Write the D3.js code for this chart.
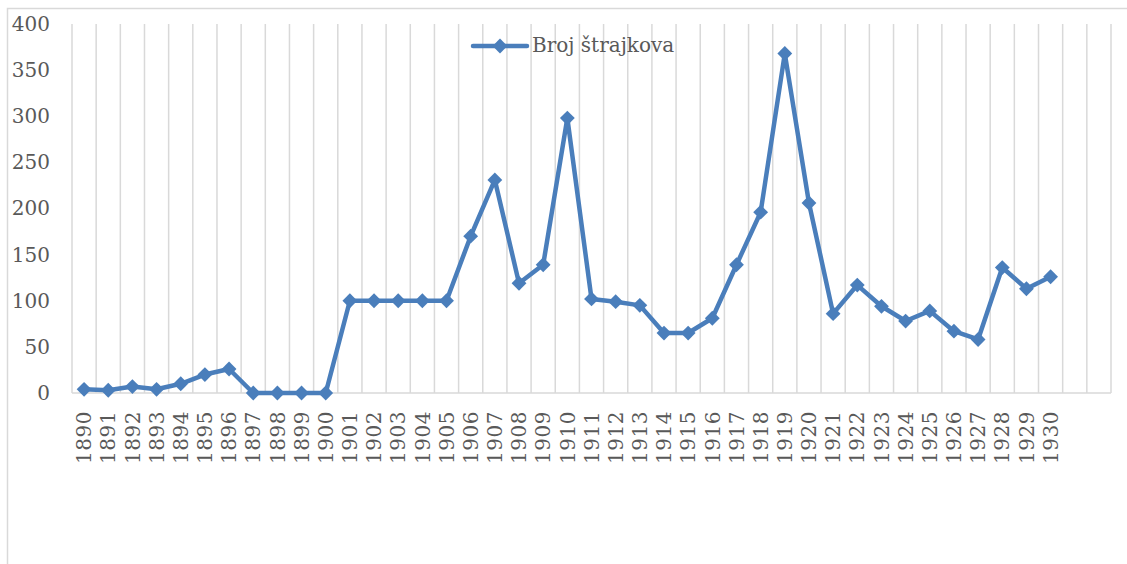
<!DOCTYPE html>
<html>
<head>
<meta charset="utf-8">
<script src="https://cdn.jsdelivr.net/npm/d3@7"></script>
<style>
  html, body { margin: 0; padding: 0; background: #fff; }
  text { font-family: "DejaVu Serif", serif; fill: #595959; }
</style>
</head>
<body>
<div id="chart"></div>
<script>
// Broj štrajkova 1890-1930
const years = [
    '1890', '1891', '1892', '1893', '1894', '1895', '1896', '1897', '1898', '1899',
    '1900', '1901', '1902', '1903', '1904', '1905', '1906', '1907', '1908', '1909',
    '1910', '1911', '1912', '1913', '1914', '1915', '1916', '1917', '1918', '1919',
    '1920', '1921', '1922', '1923', '1924', '1925', '1926', '1927', '1928', '1929',
    '1930'
];
const strikes = [
    4, 3, 7, 4, 10, 20, 26, 0, 0, 0,
    0, 100, 100, 100, 100, 100, 170, 231, 119, 139,
    298, 102, 99, 95, 65, 65, 81, 139, 196, 368,
    206, 86, 117, 94, 78, 89, 67, 58, 136, 113,
    126
];
const emptySlots = 2;   // the category axis runs on two empty slots past 1930
const yTicks = [0, 50, 100, 150, 200, 250, 300, 350, 400];
const seriesName = 'Broj štrajkova';

const width = 1127;
const height = 564;
const blue = '#4a7ebb';
const grid = '#d9d9d9';

const svg = d3.select('#chart')
    .append('svg')
    .attr('width', width)
    .attr('height', height);

// chart area border (cut off on the right and bottom like the original)
svg.append('path')
    .attr('d', `M7.5,${height} V8.5 H${width}`)
    .style('fill', 'none')
    .style('stroke', grid)
    .style('stroke-width', 1.5);

const slots = d3.range(years.length + emptySlots);
const x = d3.scaleBand()
    .domain(slots)
    .range([72, 1111])
    .padding(0);

const y = d3.scaleLinear()
    .domain([0, 400])
    .range([393, 24]);

// vertical gridlines on the slot boundaries
const bounds = slots.map(i => x(i)).concat([x.range()[1]]);
svg.selectAll('.vgrid')
    .data(bounds)
    .enter()
    .append('line')
    .attr('class', 'vgrid')
    .attr('x1', d => d)
    .attr('x2', d => d)
    .attr('y1', y(400))
    .attr('y2', y(0))
    .style('stroke', grid)
    .style('stroke-width', 1.5);

// category axis line
svg.append('line')
    .attr('x1', x.range()[0])
    .attr('x2', x.range()[1])
    .attr('y1', y(0))
    .attr('y2', y(0))
    .style('stroke', grid)
    .style('stroke-width', 1.5);

// value axis labels
const yAxis = svg.append('g')
    .attr('transform', 'translate(50,0)')
    .call(d3.axisLeft(y).tickValues(yTicks).tickSize(0).tickPadding(0));
yAxis.select('.domain').remove();
yAxis.selectAll('text')
    .style('font-family', '"DejaVu Serif", serif')
    .style('font-size', '20px')
    .style('fill', '#595959');

// category labels, rotated
const xAxis = svg.append('g')
    .attr('transform', `translate(0,${y(0)})`)
    .call(d3.axisBottom(x).tickSize(0).tickFormat(i => years[i] || ''));
xAxis.select('.domain').remove();
xAxis.selectAll('text')
    .attr('transform', 'rotate(-90)')
    .attr('x', -18)
    .attr('y', 0)
    .attr('dy', '0.36em')
    .style('text-anchor', 'end')
    .style('letter-spacing', '0.5px')
    .style('font-family', '"DejaVu Serif", serif')
    .style('font-size', '20px')
    .style('fill', '#595959');

// series line
const cx = i => x(i) + x.bandwidth() / 2;
svg.append('path')
    .datum(strikes)
    .attr('d', d3.line()
        .x((d, i) => cx(i))
        .y(d => y(d)))
    .style('fill', 'none')
    .style('stroke', blue)
    .style('stroke-width', 4.5)
    .style('stroke-linejoin', 'round');

const diamond = d3.symbol().type(d3.symbolDiamond2).size(140);
svg.selectAll('.marker')
    .data(strikes)
    .enter()
    .append('path')
    .attr('class', 'marker')
    .attr('d', diamond)
    .attr('transform', (d, i) => `translate(${cx(i)},${y(d)})`)
    .style('fill', blue);

// legend
const legend = svg.append('g').attr('transform', 'translate(473,46)');
legend.append('line')
    .attr('x1', 0)
    .attr('x2', 54)
    .style('stroke', blue)
    .style('stroke-width', 4.5)
    .style('stroke-linecap', 'round');
legend.append('path')
    .attr('d', diamond)
    .attr('transform', 'translate(27,0)')
    .style('fill', blue);
legend.append('text')
    .attr('x', 59)
    .attr('y', 6)
    .style('font-size', '20px')
    .text(seriesName);
</script>
</body>
</html>
